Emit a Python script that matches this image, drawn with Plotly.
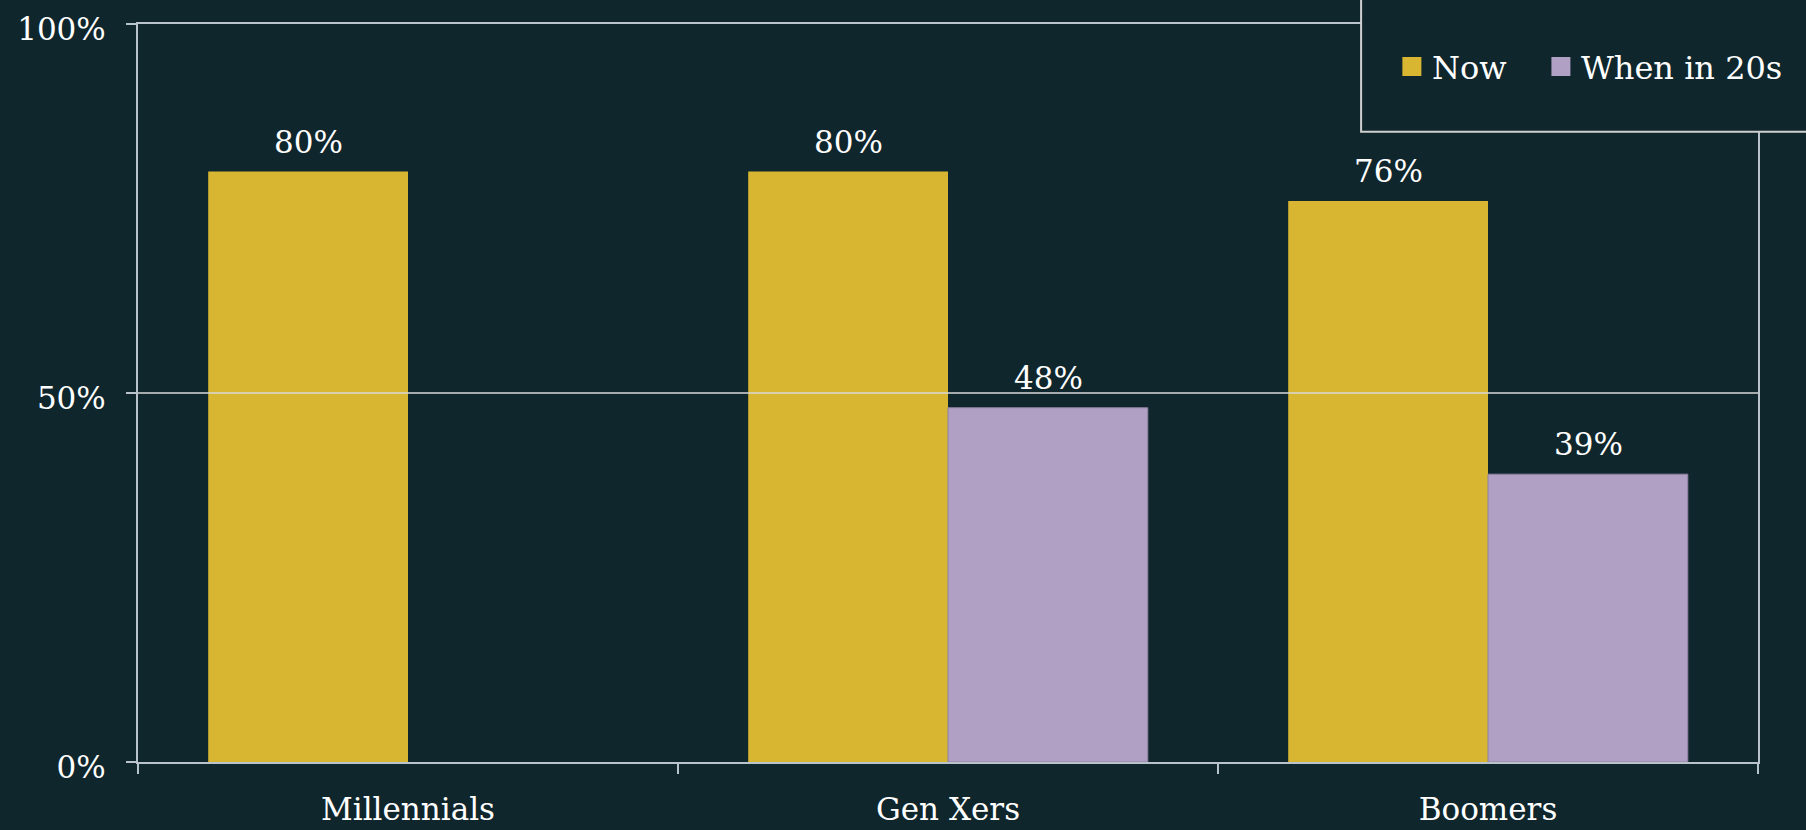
import plotly.graph_objects as go

# data
generations = ["Millennials", "Gen Xers", "Boomers"]
now_values = [80, 80, 76]
in_20s_values = [None, 48, 39]
y_ticks = [0, 50, 100]
y_tick_labels = ["0%", "50%", "100%"]

bg = "#10262d"
line_col = "#b9c3cb"
yellow = "#d8b632"
purple = "#b0a0c3"
font_family = "DejaVu Serif, Georgia, serif"

fig = go.Figure()

fig.add_trace(go.Bar(name="Now", x=generations, y=now_values,
                     marker=dict(color=yellow, line=dict(width=0)), showlegend=False))
fig.add_trace(go.Bar(name="When in 20s", x=generations, y=in_20s_values,
                     marker=dict(color=purple, line=dict(color="#8f82a3", width=1)), showlegend=False))

# legend entries with bigger square swatches, one legend each so the spacing can be set
for name, col, leg in [("Now", yellow, "legend"), ("When in 20s", purple, "legend2")]:
    fig.add_trace(go.Scatter(x=[None], y=[None], mode="markers", name=name, legend=leg,
                             marker=dict(symbol="square", size=16, color=col,
                                         line=dict(color=col, width=3))))

# value labels above each bar
for vals, shift in [(now_values, -100), (in_20s_values, 100)]:
    for g, v in zip(generations, vals):
        if v is None:
            continue
        fig.add_annotation(x=g, y=v, text=f"{v}%", showarrow=False, xshift=shift,
                           yanchor="bottom", yshift=10,
                           font=dict(size=31, color="white", family=font_family))

legend_style = dict(
    orientation="h", y=0.942, xanchor="left", yanchor="middle",
    bgcolor="rgba(0,0,0,0)", borderwidth=0,
    font=dict(size=32, color="white", family=font_family),
    itemwidth=30,
)

fig.update_layout(
    width=1806, height=830,
    barmode="group", bargap=0.26, bargroupgap=0,
    paper_bgcolor=bg, plot_bgcolor=bg,
    margin=dict(l=138, r=48, t=24, b=68, autoexpand=False),
    font=dict(family=font_family, color="white", size=31),
    legend=dict(x=0.774, **legend_style),
    legend2=dict(x=0.866, **legend_style),
)

fig.update_yaxes(
    range=[0, 100], tickvals=y_ticks, ticktext=y_tick_labels,
    showgrid=False, zeroline=False,
    showline=True, linecolor=line_col, linewidth=2, mirror=True,
    ticks="outside", ticklen=10, tickcolor=line_col, tickwidth=2,
    ticklabelstandoff=14, ticklabelshift=5,
    tickfont=dict(size=31, color="white"),
)
fig.update_xaxes(
    range=[-0.5, 2.5],
    showgrid=False, showline=True, linecolor=line_col, linewidth=2, mirror=True,
    ticks="outside", ticklen=10, tickcolor=line_col, tickwidth=2,
    tickson="boundaries", ticklabelstandoff=19,
    tickfont=dict(size=31, color="white"),
)

# 50% gridline sits on top of the bars in the original
fig.add_shape(type="line", xref="paper", yref="y", x0=0, x1=1, y0=y_ticks[1], y1=y_ticks[1],
              line=dict(color="rgba(215,215,215,0.75)", width=2), layer="above")

# legend box, running off the top-right corner
fig.add_shape(type="rect", xref="paper", yref="paper", x0=0.755, x1=1.2, y0=0.854, y1=1.2,
              line=dict(color="#d0d0d0", width=2), fillcolor=bg, layer="above")

fig.write_html("out.html", config={"displayModeBar": False},
               post_script="document.body.style.margin='0';document.body.style.background='%s';" % bg)
